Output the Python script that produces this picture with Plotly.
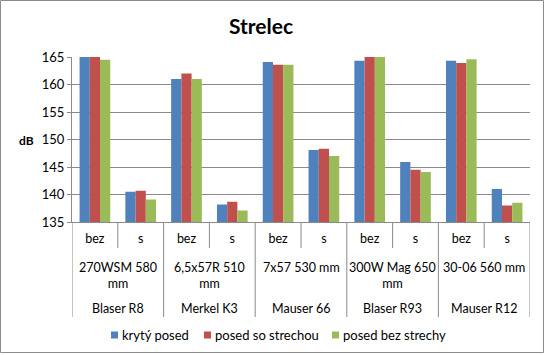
import plotly.graph_objects as go

# ---- data ----
positions = ["bez", "s", "bez", "s", "bez", "s", "bez", "s", "bez", "s"]
calibers = ["270WSM 580 mm", "6,5x57R 510 mm", "7x57 530 mm", "300W Mag 650 mm", "30-06 560 mm"]
rifles = ["Blaser R8", "Merkel K3", "Mauser 66", "Blaser R93", "Mauser R12"]
series_names = ["krytý posed", "posed so strechou", "posed bez strechy"]
kryty = [165.0, 140.5, 161.0, 138.2, 164.1, 148.1, 164.3, 145.9, 164.3, 141.0]
so_strechou = [165.0, 140.7, 162.0, 138.7, 163.6, 148.3, 165.0, 144.5, 163.9, 138.0]
bez_strechy = [164.5, 139.1, 161.0, 137.1, 163.6, 147.0, 165.0, 144.1, 164.6, 138.5]
y_ticks = [135, 140, 145, 150, 155, 160, 165]

colors = ["#4F81BD", "#C0504D", "#9BBB59"]
FONT = "Lato"
W, H = 545, 355
L, R, T, B = 72, 530, 57, 222  # plot area in px

def px_x(p):
    return (p - L) / (R - L)

def px_y(p):
    return (B - p) / (B - T)

x_idx = list(range(len(positions)))
fig = go.Figure()
for name, vals, c in zip(series_names, [kryty, so_strechou, bez_strechy], colors):
    fig.add_trace(go.Bar(x=x_idx, y=vals, name=name, marker=dict(color=c, line=dict(width=0)),
                         showlegend=False))

grid = "#8A8A8A"
shapes = []
# separators in the category label area
for i in range(len(positions) + 1):
    bx = i - 0.5
    y_end = 248 if i % 2 == 1 else 317
    shapes.append(dict(type="line", xref="x", yref="paper", x0=bx, x1=bx,
                       y0=px_y(B), y1=px_y(y_end), line=dict(color=grid, width=1)))
# outer border
shapes.append(dict(type="rect", xref="paper", yref="paper", x0=px_x(0.5), x1=px_x(543.5),
                   y0=px_y(352.5), y1=px_y(0.5), line=dict(color="#8C8C8C", width=1)))

annotations = []
def wrap(s):
    if len(s) > 12:
        a, b = s.rsplit(" ", 1)
        return a + "<br>" + b
    return s
for g, (cal, rif) in enumerate(zip(calibers, rifles)):
    cx = 2 * g + 0.5
    annotations.append(dict(x=cx, xref="x", y=px_y(258), yref="paper", text=wrap(cal),
                            showarrow=False, yanchor="top", xanchor="center",
                            font=dict(family=FONT, size=12.5, color="#000")))
    annotations.append(dict(x=cx, xref="x", y=px_y(308), yref="paper", text=rif,
                            showarrow=False, yanchor="middle", xanchor="center",
                            font=dict(family=FONT, size=12.5, color="#000")))
annotations.append(dict(x=px_x(26), xref="paper", y=px_y(140), yref="paper", text="<b>dB</b>",
                        showarrow=False, xanchor="center", yanchor="middle",
                        font=dict(family=FONT, size=12, color="#000")))

# legend (drawn as key squares + labels)
legend_x = [111, 204, 332]
legend_y = 335
for name, c, lx in zip(series_names, colors, legend_x):
    shapes.append(dict(type="rect", xref="paper", yref="paper", x0=px_x(lx), x1=px_x(lx + 7),
                       y0=px_y(legend_y + 3.5), y1=px_y(legend_y - 3.5),
                       fillcolor=c, line=dict(width=0)))
    annotations.append(dict(x=px_x(lx + 9), xref="paper", y=px_y(legend_y), yref="paper",
                            text=name, showarrow=False, xanchor="left", yanchor="middle",
                            font=dict(family=FONT, size=13, color="#000")))

fig.update_layout(
    width=W, height=H,
    margin=dict(l=L, r=W - R, t=T, b=H - B, pad=0),
    paper_bgcolor="white", plot_bgcolor="white",
    barmode="group", bargap=0.33, bargroupgap=0,
    title=dict(text="<b>Strelec</b>", x=261 / W, xref="container", y=1 - 27 / H, yref="container",
               xanchor="center", yanchor="middle", font=dict(family=FONT, size=21, color="#000")),
    font=dict(family=FONT, size=12.5, color="#000"),
    showlegend=False,
    xaxis=dict(range=[-0.5, len(positions) - 0.5], tickvals=x_idx, ticktext=positions,
               ticks="", showgrid=False, zeroline=False, showline=True, linecolor=grid,
               linewidth=1, ticklabelstandoff=5, tickfont=dict(family=FONT, size=12.5)),
    yaxis=dict(range=[135, 165], tickvals=y_ticks, ticks="outside", ticklen=4, tickcolor=grid,
               showline=True, linecolor=grid, linewidth=1, gridcolor=grid, gridwidth=1,
               zeroline=False, tickfont=dict(family=FONT, size=13)),
    shapes=shapes, annotations=annotations,
)
fig.write_html("out.html", config={"displayModeBar": False},
               post_script="document.body.style.margin='0';document.body.style.overflow='hidden';")
